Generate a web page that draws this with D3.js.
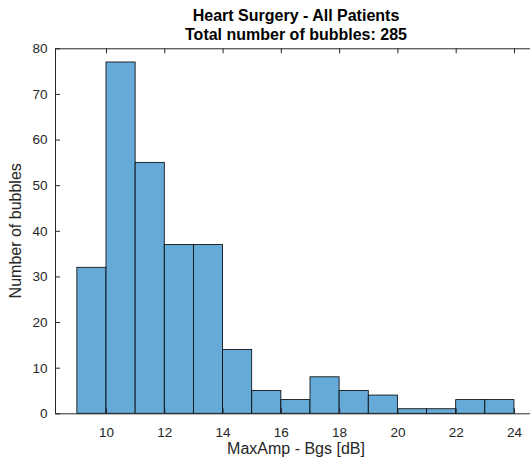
<!DOCTYPE html>
<html>
<head>
<meta charset="utf-8">
<script src="https://cdn.jsdelivr.net/npm/d3@7"></script>
<style>
  html, body { margin: 0; padding: 0; background: #fff; overflow: hidden; }
  svg { display: block; font-family: "Liberation Sans", Arial, Helvetica, sans-serif; }
</style>
</head>
<body>
<svg id="chart" width="530" height="465"></svg>
<script>
// Histogram bins (left edge, right edge) in dB and their counts
const binStarts = [9, 10, 11, 12, 13, 14, 15, 16, 17, 18, 19, 20, 21, 22, 23];
const binEnds   = [10, 11, 12, 13, 14, 15, 16, 17, 18, 19, 20, 21, 22, 23, 24];
const counts    = [32, 77, 55, 37, 37, 14, 5, 3, 8, 5, 4, 1, 1, 3, 3];
const xTicks = [10, 12, 14, 16, 18, 20, 22, 24];
const yTicks = [0, 10, 20, 30, 40, 50, 60, 70, 80];

const titleLines = ["Heart Surgery - All Patients", "Total number of bubbles: " + d3.sum(counts)];
const xLabel = "MaxAmp - Bgs [dB]";
const yLabel = "Number of bubbles";

const svg = d3.select("#chart");
const axL = 55, axR = 537, axT = 48.3, axB = 413.3;

const x = d3.scaleLinear().domain([8.25, 24.79]).range([axL, axR]);
const y = d3.scaleLinear().domain([0, 80]).range([axB, axT]);

const axisColor = "#262626";
const bins = counts.map((c, i) => ({ x0: binStarts[i], x1: binEnds[i], n: c }));

// bars
svg.append("g").selectAll("rect").data(bins).join("rect")
  .attr("x", d => x(d.x0))
  .attr("y", d => y(d.n))
  .attr("width", d => x(d.x1) - x(d.x0))
  .attr("height", d => y(0) - y(d.n))
  .attr("fill", "rgb(102,170,215)")
  .attr("stroke", "#000")
  .attr("stroke-width", 0.8);

const tickLen = 5;

// bottom axis with inward ticks
const gx = svg.append("g").attr("transform", `translate(0,${axB})`)
  .call(d3.axisBottom(x).tickValues(xTicks).tickSizeInner(-tickLen).tickSizeOuter(0).tickPadding(14));
// top axis (box) with inward ticks, no labels
const gxt = svg.append("g").attr("transform", `translate(0,${axT})`)
  .call(d3.axisTop(x).tickValues(xTicks).tickSizeInner(-tickLen).tickSizeOuter(0).tickFormat(""));
// left axis
const gy = svg.append("g").attr("transform", `translate(${axL},0)`)
  .call(d3.axisLeft(y).tickValues(yTicks).tickSizeInner(-tickLen).tickSizeOuter(0).tickPadding(7.5));
// right axis (box)
const gyr = svg.append("g").attr("transform", `translate(${axR},0)`)
  .call(d3.axisRight(y).tickValues(yTicks).tickSizeInner(-tickLen).tickSizeOuter(0).tickFormat(""));

[gx, gxt, gy, gyr].forEach(g => {
  g.select(".domain").attr("stroke", axisColor).attr("stroke-width", 1);
  g.selectAll(".tick line").attr("stroke", axisColor).attr("stroke-width", 1);
  g.selectAll(".tick text").attr("fill", axisColor).style("font-size", "13.5px").style("font-family", "inherit");
});

// titles
svg.append("g").selectAll("text").data(titleLines).join("text")
  .attr("x", (axL + axR) / 2)
  .attr("y", (d, i) => 20.7 + i * 19.3)
  .attr("text-anchor", "middle")
  .attr("fill", "#000")
  .style("font-size", "16px")
  .style("font-weight", "bold")
  .text(d => d);

// axis labels
svg.append("text")
  .attr("x", (axL + axR) / 2)
  .attr("y", 453.5)
  .attr("text-anchor", "middle")
  .attr("fill", axisColor)
  .style("font-size", "16px")
  .text(xLabel);

svg.append("text")
  .attr("transform", `translate(21,${(axT + axB) / 2}) rotate(-90)`)
  .attr("text-anchor", "middle")
  .attr("fill", axisColor)
  .style("font-size", "16px")
  .text(yLabel);
</script>
</body>
</html>
